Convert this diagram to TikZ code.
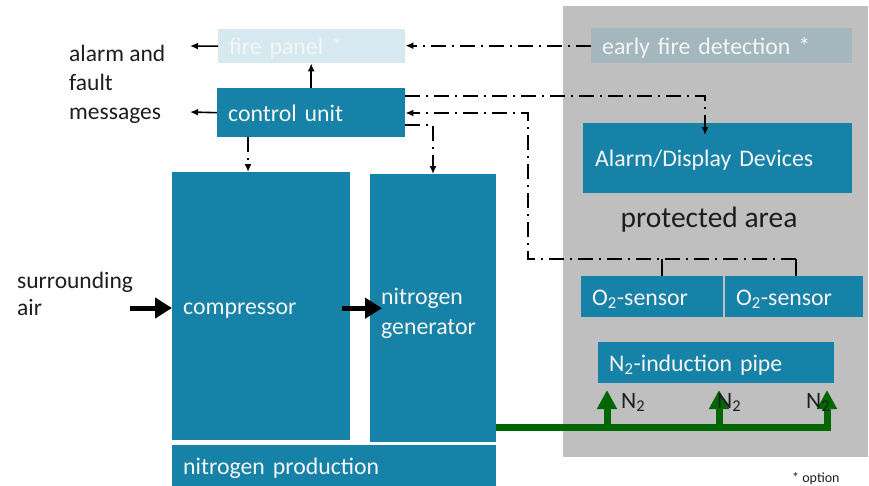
\documentclass[tikz,border=0pt]{standalone}
\usepackage{fontspec}
\setmainfont{Carlito}
\usetikzlibrary{arrows.meta}
\definecolor{mainblue}{RGB}{23,130,168}
\definecolor{panelblue}{RGB}{214,232,240}
\definecolor{efdgray}{RGB}{164,182,190}
\definecolor{areagray}{RGB}{191,191,191}
\definecolor{pipegreen}{RGB}{0,102,0}
\definecolor{boxtext}{RGB}{245,245,245}
\definecolor{darktext}{RGB}{30,30,30}
\begin{document}
\begin{tikzpicture}[x=1pt,y=-1pt,
  boxbase/.style={anchor=north west, inner ysep=0pt, inner xsep=11pt, align=left,
    text=boxtext, font=\fontsize{23.8}{30}\selectfont},
  oneline/.style={text height=22pt, text depth=5pt},
  bluebox/.style={boxbase, fill=mainblue},
  areabox/.style={anchor=north west, fill=areagray, inner sep=0pt},
  lbl/.style={text=darktext, font=\fontsize{23.5}{29}\selectfont, inner sep=0pt},
  solidarrow/.style={line width=1.6pt, -{Latex[length=8pt,width=7pt]}},
  ddline/.style={line width=1.6pt, dash pattern=on 15pt off 6pt on 2pt off 6pt},
  ddarrow/.style={ddline, -{Latex[length=8pt,width=7pt]}},
  fatarrow/.style={line width=5pt, -{Triangle[length=17pt,width=20pt]}},
  pipe/.style={line width=7pt, draw=pipegreen},
  pipearrow/.style={pipe, -{Triangle[length=19pt,width=19pt]}},
]
\useasboundingbox (0,0) rectangle (869,485);

% protected area
\node[areabox, minimum width=305pt, minimum height=451pt] (area) at (563,6) {};

% boxes
\node[boxbase, oneline, fill=efdgray, minimum width=261pt, minimum height=35pt, text width=239pt] (efd) at (591,28) {early fire detection *};
\node[boxbase, oneline, fill=panelblue, minimum width=187pt, minimum height=34pt, text width=165pt] (fp) at (218,29) {fire panel *};
\node[bluebox, oneline, minimum width=188pt, minimum height=49pt, text width=166pt] (cu) at (217,88) {control unit};
\node[bluebox, oneline, minimum width=178pt, minimum height=268pt, text width=156pt] (comp) at (172,172) {compressor};
\node[bluebox, text depth=24pt, minimum width=126pt, minimum height=268pt, text width=104pt] (ngen) at (370,174) {nitrogen\\generator};
\node[bluebox, oneline, minimum width=324pt, minimum height=42pt, text width=302pt] (nprod) at (172,445) {nitrogen production};
\node[bluebox, oneline, inner xsep=12pt, minimum width=269pt, minimum height=70pt, text width=245pt] (alarm) at (583,123) {Alarm/Display Devices};
\node[bluebox, oneline, minimum width=142pt, minimum height=41pt, text width=120pt] (o2a) at (581,276) {O\textsubscript{2}-sensor};
\node[bluebox, oneline, minimum width=138pt, minimum height=41pt, text width=116pt] (o2b) at (725,276) {O\textsubscript{2}-sensor};
\node[bluebox, oneline, minimum width=236pt, minimum height=41pt, text width=214pt] (n2p) at (598,342) {N\textsubscript{2}-induction pipe};

% free texts
\node[lbl, anchor=west, align=left] (msg) at (69,84) {alarm and\\fault\\messages};
\node[lbl, anchor=west, align=left, font=\fontsize{23.5}{27}\selectfont] (air) at (17,294) {surrounding\\air};
\node[lbl, anchor=base, font=\fontsize{29.5}{34}\selectfont] (prot) at (709,227) {protected area};
\node[lbl, anchor=base west, font=\fontsize{14}{16}\selectfont] (opt) at (792,482) {* option};

% solid arrows
\coordinate (fpout) at (190,46);
\coordinate (cuout) at (190,112);
\draw[solidarrow] (fp.west) -- (fpout);
\draw[solidarrow] (cu.west) -- (cuout);
\draw[solidarrow] (cu.north) -- (cu.north |- fp.south);

% dash-dot connectors
\draw[ddarrow] (efd.west) -- (efd.west -| fp.east);
\coordinate (alin) at (705,135);
\draw[ddarrow] (cu.east |- 0,96) -| (alin);
\coordinate (s1) at (662,259);
\coordinate (s2) at (796,259);
\draw[line width=1.6pt] (s1) -- (s1 |- o2a.north);
\draw[line width=1.6pt] (s2) -- (s2 |- o2b.north);
\draw[ddarrow] (s2) -- (528,259) -- (528,113) -- (cu.east |- 0,113);
\draw[ddarrow] (cu.east |- 0,125) -| (433,0 |- ngen.north);
\draw[ddarrow] (248,0 |- cu.south) -- (248,0 |- comp.north);

% air arrows
\coordinate (airin) at (130,308);
\draw[fatarrow] (airin) -- (comp.west |- airin);
\draw[fatarrow] ([shift={(-8,2)}]comp.east) -- ([xshift=12pt]ngen.west);

% nitrogen pipe
\coordinate (g0) at (ngen.east |- 0,427);
\coordinate (r1) at (607,427);
\coordinate (r2) at (719,427);
\coordinate (t1) at (607,390);
\coordinate (t2) at (719,390);
\coordinate (t3) at (827,390);
\draw[pipearrow] (g0) -| (t3);
\draw[pipearrow] (r1) -- (t1);
\draw[pipearrow] (r2) -- (t2);

% N2 labels
\node[lbl, anchor=base west] (n2a) at (621,408) {N\textsubscript{2}};
\node[lbl, anchor=base west] (n2b) at (717,408) {N\textsubscript{2}};
\node[lbl, anchor=base west] (n2c) at (806,408) {N\textsubscript{2}};
\end{tikzpicture}
\end{document}
